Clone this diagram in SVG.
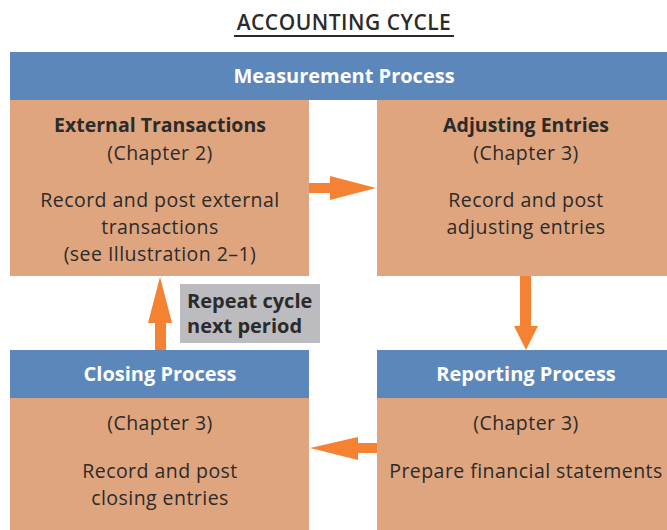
<svg xmlns="http://www.w3.org/2000/svg" width="667" height="530" viewBox="0 0 667 530">
<style>
.bar{fill:#5b87ba}
.box{fill:#dfa57f}
.arrow{fill:#f58232}
.t{font-family:"Open Sans",Lato,"Liberation Sans",sans-serif;font-size:19.5px;letter-spacing:0.45px;fill:#2b2b2b;text-anchor:middle}
.b{font-weight:bold;letter-spacing:0}
.w{fill:#ffffff;font-weight:bold;font-size:20px;letter-spacing:0}
</style>
<rect width="667" height="530" fill="#ffffff"/>
<g id="title">
<text class="t" x="344" y="30" style="font-size:21px;font-weight:600;letter-spacing:0.5px">ACCOUNTING CYCLE</text>
<line x1="234" y1="36" x2="454" y2="36" stroke="#2b2b2b" stroke-width="2"/>
</g>
<g id="measurement">
<rect class="bar" x="10" y="52" width="657" height="48"/>
<text class="t w" x="344" y="83">Measurement Process</text>
</g>
<g id="external">
<rect class="box" x="10" y="100" width="299" height="176"/>
<text class="t b" x="160" y="132">External Transactions</text>
<text class="t" x="160" y="160">(Chapter 2)</text>
<text class="t" x="160" y="207">Record and post external</text>
<text class="t" x="160" y="234">transactions</text>
<text class="t" x="160" y="261">(see Illustration 2–1)</text>
</g>
<g id="adjusting">
<rect class="box" x="377" y="100" width="290" height="176"/>
<text class="t b" x="526" y="132">Adjusting Entries</text>
<text class="t" x="526" y="160">(Chapter 3)</text>
<text class="t" x="526" y="207">Record and post</text>
<text class="t" x="526" y="234">adjusting entries</text>
</g>
<g id="closing">
<rect class="box" x="10" y="398" width="299" height="132"/>
<rect class="bar" x="10" y="350" width="299" height="48"/>
<text class="t w" x="160" y="381">Closing Process</text>
<text class="t" x="160" y="430">(Chapter 3)</text>
<text class="t" x="160" y="478">Record and post</text>
<text class="t" x="160" y="505">closing entries</text>
</g>
<g id="reporting">
<rect class="box" x="377" y="398" width="290" height="132"/>
<rect class="bar" x="377" y="350" width="290" height="48"/>
<text class="t w" x="526" y="381">Reporting Process</text>
<text class="t" x="526" y="430">(Chapter 3)</text>
<text class="t" x="526" y="478">Prepare financial statements</text>
</g>
<g id="repeat">
<rect x="180" y="284" width="140" height="59" fill="#bcbcc0"/>
<text class="t b" x="187" y="308" style="text-anchor:start;font-size:20px">Repeat cycle</text>
<text class="t b" x="187" y="333" style="text-anchor:start;font-size:20px">next period</text>
</g>
<g id="connectors">
<polygon class="arrow" points="309,183 330,183 330,176 376,188 330,200 330,193 309,193"/>
<polygon class="arrow" points="520,276 531,276 531,326 538,326 526,350 514,326 520,326"/>
<polygon class="arrow" points="377,443 358,443 358,437 310,448 358,460 358,453 377,453"/>
<polygon class="arrow" points="155,350 166,350 166,323 172,323 160,277 148,323 155,323"/>
</g>
</svg>
